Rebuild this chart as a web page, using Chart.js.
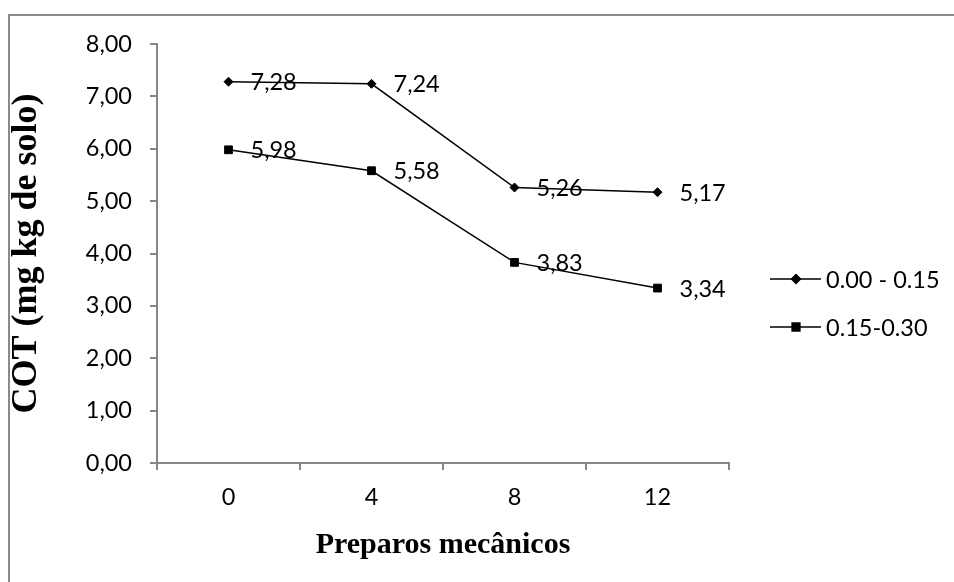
<!DOCTYPE html>
<html>
<head>
    <title>COT vs Preparos mecânicos</title>
    <script src="https://cdn.jsdelivr.net/npm/chart.js"></script>
    <meta charset="UTF-8" />
    <style>
  html, body {
    margin: 0;
    padding: 0;
    overflow: hidden;
    background: #fff;
  }
  .frame {
    position: absolute;
    left: 8px;
    top: 14px;
    width: 2000px;
    height: 2000px;
    border-top: 2px solid #8a8a8a;
    border-left: 2px solid #8a8a8a;
  }
  #myChart {
    position: absolute;
    left: 0;
    top: 0;
  }
</style>
</head>
<body>
  <div class="frame"></div>
  <canvas id="myChart" width="954" height="582"></canvas>
    <script>
        // data
        const categories = ['0', '4', '8', '12'];
        const seriesNames = ['0.00 - 0.15', '0.15-0.30'];
        const topLayer = [7.28, 7.24, 5.26, 5.17];
        const bottomLayer = [5.98, 5.58, 3.83, 3.34];
        const yTicks = [0, 1, 2, 3, 4, 5, 6, 7, 8];

        const AXIS = '#868686';
        const LABEL_FONT = { family: 'Lato', size: 23.5 };
        const X_TITLE_FONT = { family: 'Liberation Serif', size: 30, weight: 'bold' };
        const Y_TITLE_FONT = { family: 'Liberation Serif', size: 36, weight: 'bold' };

        const fmt = v => v.toFixed(2).replace('.', ',');

        // value labels right of each point
        const valueLabels = {
            id: 'valueLabels',
            afterDatasetsDraw(chart) {
                const ctx = chart.ctx;
                ctx.save();
                ctx.font = LABEL_FONT.size + 'px ' + LABEL_FONT.family;
                ctx.fillStyle = '#000';
                ctx.textAlign = 'left';
                ctx.textBaseline = 'middle';
                chart.data.datasets.forEach((ds, i) => {
                    chart.getDatasetMeta(i).data.forEach((pt, j) => {
                        ctx.fillText(fmt(ds.data[j]), pt.x + 22, pt.y + 1);
                    });
                });
                ctx.restore();
            }
        };

        // legend on the right: line + marker + text
        const sideLegend = {
            id: 'sideLegend',
            afterDraw(chart) {
                const ctx = chart.ctx;
                const rows = [279, 327];
                ctx.save();
                chart.data.datasets.forEach((ds, i) => {
                    const y = rows[i];
                    ctx.strokeStyle = '#000';
                    ctx.lineWidth = 1.5;
                    ctx.beginPath();
                    ctx.moveTo(770, y);
                    ctx.lineTo(821, y);
                    ctx.stroke();
                    ctx.fillStyle = '#000';
                    Chart.helpers.drawPoint(ctx, {
                        pointStyle: ds.pointStyle,
                        radius: ds.pointRadius,
                        borderWidth: 1
                    }, 796, y);
                    ctx.font = LABEL_FONT.size + 'px ' + LABEL_FONT.family;
                    ctx.textAlign = 'left';
                    ctx.textBaseline = 'middle';
                    ctx.fillText(ds.label, 826, y + 1);
                });
                ctx.restore();
            }
        };

        const ctx = document.getElementById('myChart').getContext('2d');
        const myChart = new Chart(ctx, {
            type: 'line',
            data: {
                labels: categories,
                datasets: [{
                    label: seriesNames[0],
                    data: topLayer,
                    borderColor: '#000',
                    backgroundColor: '#000',
                    borderWidth: 1.5,
                    pointStyle: 'rectRot',
                    pointRadius: 4.5,
                    pointBorderWidth: 1,
                    tension: 0
                },
                {
                    label: seriesNames[1],
                    data: bottomLayer,
                    borderColor: '#000',
                    backgroundColor: '#000',
                    borderWidth: 1.5,
                    pointStyle: 'rect',
                    pointRadius: 5.5,
                    pointBorderWidth: 1,
                    tension: 0
                }]
            },
            options: {
                responsive: false,
                animation: false,
                layout: { padding: { top: 44, right: 225, left: 0, bottom: 0 } },
                plugins: {
                    legend: { display: false },
                    tooltip: { enabled: false }
                },
                scales: {
                    x: {
                        offset: true,
                        afterFit: s => { s.height = 119; },
                        grid: {
                            offset: true,
                            drawOnChartArea: false,
                            drawTicks: true,
                            tickLength: 7,
                            color: AXIS,
                            lineWidth: 2
                        },
                        border: { display: true, color: AXIS, width: 2 },
                        ticks: { color: '#000', font: LABEL_FONT, padding: 13 },
                        title: {
                            display: true,
                            text: 'Preparos mecânicos',
                            color: '#000',
                            font: X_TITLE_FONT,
                            padding: { top: 0, bottom: 19 }
                        }
                    },
                    y: {
                        min: yTicks[0],
                        max: yTicks[yTicks.length - 1],
                        afterFit: s => { s.width = 157; },
                        afterBuildTicks: s => { s.ticks = yTicks.map(v => ({ value: v })); },
                        grid: {
                            drawOnChartArea: false,
                            drawTicks: true,
                            tickLength: 7,
                            color: AXIS,
                            lineWidth: 2
                        },
                        border: { display: true, color: AXIS, width: 2 },
                        ticks: {
                            color: '#000',
                            font: LABEL_FONT,
                            padding: 18,
                            callback: v => fmt(v)
                        },
                        title: {
                            display: true,
                            text: 'COT (mg kg de solo)',
                            color: '#000',
                            font: Y_TITLE_FONT,
                            padding: { top: 5, bottom: 0 }
                        }
                    }
                }
            },
            plugins: [valueLabels, sideLegend]
        });
    </script>
</body>
</html>
